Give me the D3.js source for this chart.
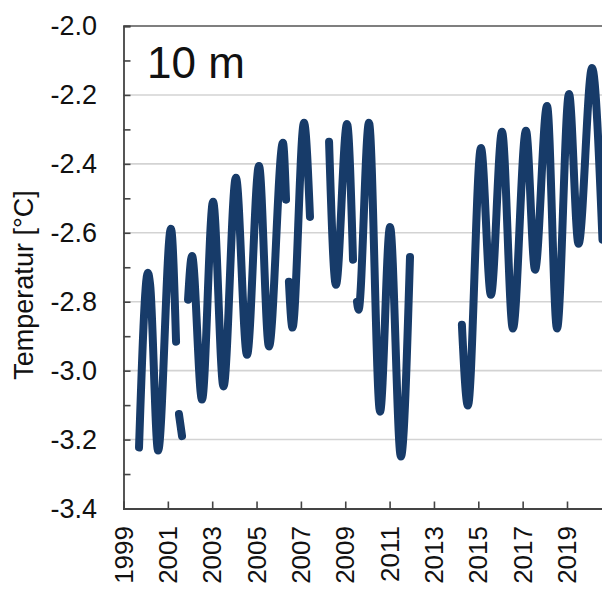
<!DOCTYPE html>
<html>
<head>
<meta charset="utf-8">
<script src="https://cdn.jsdelivr.net/npm/d3@7"></script>
<style>
  html, body { margin: 0; padding: 0; background: #fff; }
  svg { display: block; font-family: "Liberation Sans", Arial, sans-serif; }
</style>
</head>
<body>
<svg id="chart" width="602" height="590"></svg>
<script>
// ---- data (decimal year, temperature °C), segments separated by data gaps ----
const seg1 = [[1999.70,-3.223],[2000.10,-2.716],[2000.20,-2.75],[2000.56,-3.232],[2001.14,-2.588],[2001.37,-2.916]];
const seg2 = [[2001.50,-3.126],[2001.64,-3.19]];
const seg3 = [[2001.91,-2.794],[2002.09,-2.667],[2002.54,-3.084],[2003.04,-2.51],[2003.51,-3.046],[2004.07,-2.44],[2004.57,-2.954],[2005.11,-2.406],[2005.56,-2.93],[2006.19,-2.339],[2006.33,-2.504]];
const seg4 = [[2006.46,-2.742],[2006.62,-2.875],[2007.14,-2.281],[2007.41,-2.554]];
const seg5 = [[2008.27,-2.336],[2008.58,-2.751],[2009.08,-2.284],[2009.35,-2.678]];
const seg6 = [[2009.53,-2.80],[2009.60,-2.823],[2010.07,-2.281],[2010.57,-3.119],[2011.02,-2.583],[2011.51,-3.249],[2011.92,-2.67]];
const seg7 = [[2014.26,-2.867],[2014.53,-3.101],[2015.12,-2.354],[2015.57,-2.78],[2016.07,-2.307],[2016.56,-2.878],[2017.15,-2.304],[2017.56,-2.707],[2018.10,-2.232],[2018.55,-2.878],[2019.09,-2.197],[2019.52,-2.632],[2020.13,-2.122],[2020.60,-2.62]];
const segments = [seg1, seg2, seg3, seg4, seg5, seg6, seg7];

const yTicks = [-3.4,-3.2,-3.0,-2.8,-2.6,-2.4,-2.2,-2.0];
const yMinorTicks = [-3.3,-3.1,-2.9,-2.7,-2.5,-2.3,-2.1];
const xTicks = [1999,2001,2003,2005,2007,2009,2011,2013,2015,2017,2019];
const yTitle = "Temperatur [°C]";
const panelLabel = "10 m";

// ---- layout ----
const svg = d3.select("#chart");
const mLeft = 123.5, mTop = 26, mBottom = 508.5;
const x = d3.scaleLinear().domain([1999, 2021]).range([mLeft, mLeft + 22 * 22.175]);
const y = d3.scaleLinear().domain([-3.4, -2.0]).range([mBottom, mTop]);

// gridlines
svg.append("g").selectAll("line").data(yTicks.filter(d => d > -3.4 && d < -2.0)).join("line")
  .attr("x1", mLeft).attr("x2", 602)
  .attr("y1", d => y(d)).attr("y2", d => y(d))
  .attr("stroke", "#d3d3d3").attr("stroke-width", 1.6);

// top border
svg.append("line").attr("x1", mLeft).attr("x2", 602).attr("y1", mTop).attr("y2", mTop)
  .attr("stroke", "#555").attr("stroke-width", 1.6);

// y axis
const yAxis = d3.axisRight(y).tickValues(yTicks.concat(yMinorTicks)).tickSize(7).tickFormat("");
const gy = svg.append("g").attr("transform", `translate(${mLeft},0)`).call(yAxis);
gy.select(".domain").attr("stroke", "#444").attr("stroke-width", 1.8);
gy.selectAll(".tick line").attr("stroke", "#444").attr("stroke-width", 1.6);

svg.append("g").selectAll("text").data(yTicks).join("text")
  .attr("x", 97).attr("y", d => y(d))
  .attr("text-anchor", "end").attr("dominant-baseline", "central")
  .attr("font-size", 27).attr("fill", "#111")
  .text(d => d.toFixed(1));

// x axis
const xAxis = d3.axisTop(x).tickValues(xTicks).tickSize(7).tickFormat("");
const gx = svg.append("g").attr("transform", `translate(0,${mBottom})`).call(xAxis);
gx.select(".domain").attr("stroke", "#444").attr("stroke-width", 1.8);
gx.selectAll(".tick line").attr("stroke", "#444").attr("stroke-width", 1.6);

svg.append("g").selectAll("text").data(xTicks).join("text")
  .attr("transform", d => `translate(${x(d)},526) rotate(-90)`)
  .attr("text-anchor", "end").attr("dominant-baseline", "central")
  .attr("font-size", 26).attr("fill", "#111")
  .text(d => d);

// y title
svg.append("text").attr("transform", "translate(33,285) rotate(-90)")
  .attr("text-anchor", "middle").attr("font-size", 27).attr("fill", "#111")
  .text(yTitle);

// panel label
svg.append("text").attr("x", 147).attr("y", 78)
  .attr("font-size", 44).attr("fill", "#111").text(panelLabel);

// data line
const line = d3.line().x(d => x(d[0])).y(d => y(d[1])).curve(d3.curveMonotoneX);
svg.append("defs").append("clipPath").attr("id", "clip")
  .append("rect").attr("x", mLeft).attr("y", 0).attr("width", 602 - mLeft).attr("height", 590);
svg.append("g").attr("clip-path", "url(#clip)").selectAll("path").data(segments).join("path")
  .attr("d", line)
  .attr("fill", "none").attr("stroke", "#173b69").attr("stroke-width", 8)
  .attr("stroke-linecap", "round").attr("stroke-linejoin", "round");
</script>
</body>
</html>
